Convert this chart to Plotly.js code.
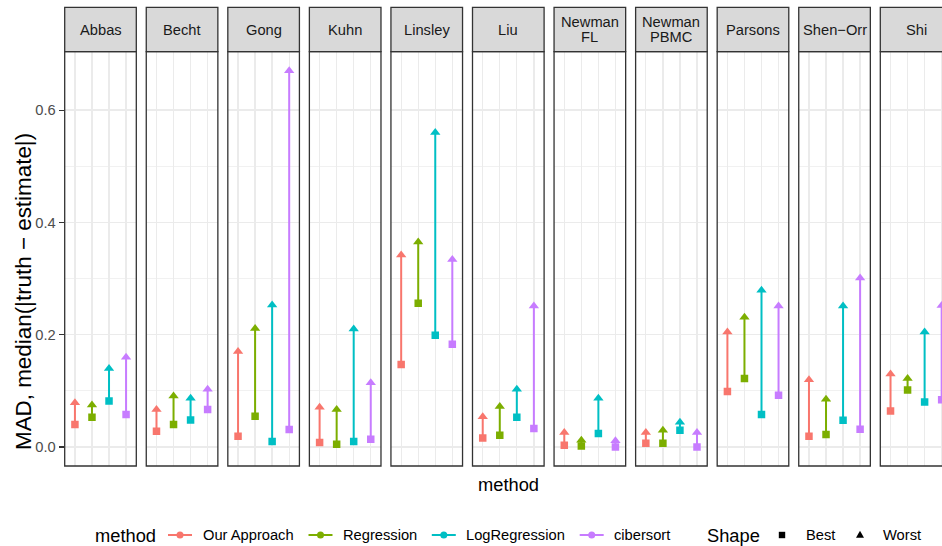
<!DOCTYPE html>
<html>
<head>
<meta charset="utf-8">
<script src="https://cdn.plot.ly/plotly-3.0.1.min.js"></script>
<style>
  html, body { margin: 0; padding: 0; background: #ffffff; overflow: hidden; }
  #wrap { width: 942px; height: 546px; overflow: hidden; }
  #chart { width: 960px; height: 546px; }
</style>
</head>
<body>
<div id="wrap"><div id="chart"></div></div>
<script>
// Facet labels (one panel per dataset) and the methods compared in each panel
const datasets = ["Abbas", "Becht", "Gong", "Kuhn", "Linsley", "Liu",
                  "Newman\nFL", "Newman\nPBMC", "Parsons", "Shen\u2212Orr", "Shi"];
const methods = ["Our Approach", "Regression", "LogRegression", "cibersort"];

// MAD, median(|truth - estimate|): best and worst value per dataset
const bestOurApproach   = [0.040, 0.028, 0.019, 0.008, 0.147, 0.016, 0.003, 0.0065, 0.099, 0.019, 0.064];
const worstOurApproach  = [0.079, 0.067, 0.170, 0.071, 0.342, 0.054, 0.026, 0.026, 0.205, 0.120, 0.130];
const bestRegression    = [0.053, 0.040, 0.055, 0.005, 0.256, 0.021, 0.002, 0.0065, 0.122, 0.0225, 0.1015];
const worstRegression   = [0.075, 0.091, 0.211, 0.067, 0.365, 0.072, 0.012, 0.030, 0.231, 0.085, 0.122];
const bestLogRegression = [0.082, 0.048, 0.010, 0.010, 0.199, 0.053, 0.024, 0.030, 0.058, 0.0475, 0.080];
const worstLogRegression= [0.140, 0.087, 0.253, 0.210, 0.560, 0.103, 0.087, 0.044, 0.279, 0.251, 0.205];
const bestCibersort     = [0.058, 0.067, 0.031, 0.014, 0.183, 0.033, 0.000, 0.000, 0.092, 0.0315, 0.084];
const worstCibersort    = [0.160, 0.103, 0.670, 0.1145, 0.334, 0.251, 0.011, 0.026, 0.251, 0.301, 0.252];

const yTickValues = [0, 0.2, 0.4, 0.6];
const yMinorValues = [0.1, 0.3, 0.5];
const shapeLabels = ["Best", "Worst"];

// Styling
const methodColors = ["#F8766D", "#7CAE00", "#00BFC4", "#C77CFF"];
const FONT = "Liberation Sans, Arial, Helvetica, sans-serif";
const W = 960, H = 546;
const panelLeft0 = 64.7, panelStep = 81.56, panelWidth = 71.6;
const panelTop = 51.7, panelBottom = 466, stripTop = 7.3;

const bestByMethod  = [bestOurApproach, bestRegression, bestLogRegression, bestCibersort];
const worstByMethod = [worstOurApproach, worstRegression, worstLogRegression, worstCibersort];

const px = v => v / W;          // pixel -> paper x
const py = v => 1 - v / H;      // pixel -> paper y

const traces = [];
const layout = {
  width: W, height: H,
  margin: {l: 0, r: 0, t: 0, b: 0, pad: 0},
  paper_bgcolor: "#ffffff", plot_bgcolor: "#ffffff",
  showlegend: false,
  font: {family: FONT, color: "#000000"},
  shapes: [], annotations: [],
  yaxis: {
    domain: [py(panelBottom), py(panelTop)],
    range: [-0.0338, 0.704],
    anchor: "x",
    tickmode: "array", tickvals: yTickValues, tickformat: ".1f",
    ticks: "outside", ticklen: 5, tickwidth: 1.1, tickcolor: "#333333",
    tickfont: {family: FONT, size: 14.7, color: "#4D4D4D"},
    showgrid: true, gridcolor: "#EBEBEB", gridwidth: 1.3,
    minor: {tickmode: "array", tickvals: yMinorValues, showgrid: true,
            gridcolor: "#EBEBEB", gridwidth: 0.7, ticks: ""},
    zeroline: false, showline: false, fixedrange: true
  }
};

datasets.forEach((name, i) => {
  const axName = i === 0 ? "x" : "x" + (i + 1);
  const axKey = i === 0 ? "xaxis" : "xaxis" + (i + 1);
  const left = panelLeft0 + panelStep * i;
  layout[axKey] = {
    domain: [px(left), px(left + panelWidth)],
    anchor: "y",
    type: "category", categoryorder: "array", categoryarray: methods,
    range: [-0.6, 3.6],
    showticklabels: false, ticks: "",
    showgrid: true, gridcolor: "#EBEBEB", gridwidth: 1.3,
    zeroline: false, showline: false, fixedrange: true
  };

  methods.forEach((m, k) => {
    traces.push({
      type: "scatter", mode: "lines+markers",
      x: [m, m], y: [bestByMethod[k][i], worstByMethod[k][i]],
      xaxis: axName, yaxis: "y",
      line: {color: methodColors[k], width: 2},
      marker: {color: methodColors[k], symbol: ["square", "triangle-up"], size: [7.5, 9],
               line: {width: 0}, opacity: 1},
      hoverinfo: "skip", showlegend: false
    });
  });

  // panel border
  layout.shapes.push({type: "rect", xref: axName + " domain", yref: "y domain",
    x0: 0, x1: 1, y0: 0, y1: 1, line: {color: "#333333", width: 1.3}, layer: "above"});
  // strip
  layout.shapes.push({type: "rect", xref: axName + " domain", yref: "paper",
    x0: 0, x1: 1, y0: py(panelTop), y1: py(stripTop),
    fillcolor: "#D9D9D9", line: {color: "#333333", width: 1.3}, layer: "above"});
  const lines = name.split("\n");
  const mid = (panelTop + stripTop) / 2;
  lines.forEach((ln, j) => {
    const off = (j - (lines.length - 1) / 2) * 15.6;
    layout.annotations.push({xref: axName + " domain", yref: "paper",
      x: 0.5, y: py(mid + off), xanchor: "center", yanchor: "middle",
      text: ln, showarrow: false,
      font: {family: FONT, size: 14.7, color: "#1A1A1A"}});
  });
});

// axis titles
layout.annotations.push({xref: "paper", yref: "paper", x: px(508), y: py(484),
  xanchor: "center", yanchor: "middle", showarrow: false, text: "method",
  font: {family: FONT, size: 18.3, color: "#000000"}});
layout.annotations.push({xref: "paper", yref: "paper", x: px(23), y: py(292),
  xanchor: "center", yanchor: "middle", showarrow: false, textangle: -90,
  text: "MAD, median(|truth \u2212 estimate|)",
  font: {family: FONT, size: 22.4, color: "#000000"}});

// legend: colour keys for method, black symbols for shape
const legendY = 535;
const keyCenters = [180, 320.5, 443.8, 591.7];
const legendText = (x, text, size) => layout.annotations.push({xref: "paper", yref: "paper",
  x: px(x - 2), y: py(legendY), xanchor: "left", yanchor: "middle", showarrow: false,
  text: text, font: {family: FONT, size: size, color: "#000000"}});

legendText(95, "method", 18.3);
methods.forEach((m, k) => {
  const c = keyCenters[k];
  layout.shapes.push({type: "line", xref: "paper", yref: "paper",
    x0: px(c - 12), x1: px(c + 12), y0: py(legendY), y1: py(legendY),
    line: {color: methodColors[k], width: 2}});
  layout.shapes.push({type: "circle", xref: "paper", yref: "paper",
    xsizemode: "pixel", ysizemode: "pixel", xanchor: px(c), yanchor: py(legendY),
    x0: -3.5, x1: 3.5, y0: -3.5, y1: 3.5,
    fillcolor: methodColors[k], line: {width: 0}});
  legendText(c + 22.5, m, 14.7);
});

legendText(707, "Shape", 18.3);
const squareX = 782, triX = 860;
layout.shapes.push({type: "rect", xref: "paper", yref: "paper",
  xsizemode: "pixel", ysizemode: "pixel", xanchor: px(squareX), yanchor: py(legendY),
  x0: -3.2, x1: 3.2, y0: -3.2, y1: 3.2, fillcolor: "#000000", line: {width: 0}});
legendText(squareX + 24, shapeLabels[0], 14.7);
layout.shapes.push({type: "path", xref: "paper", yref: "paper",
  xsizemode: "pixel", ysizemode: "pixel", xanchor: px(triX), yanchor: py(legendY),
  path: "M -4 -2.8 L 4 -2.8 L 0 4.2 Z", fillcolor: "#000000", line: {width: 0}});
legendText(triX + 23, shapeLabels[1], 14.7);

Plotly.newPlot("chart", traces, layout, {staticPlot: true, displayModeBar: false});
</script>
</body>
</html>
